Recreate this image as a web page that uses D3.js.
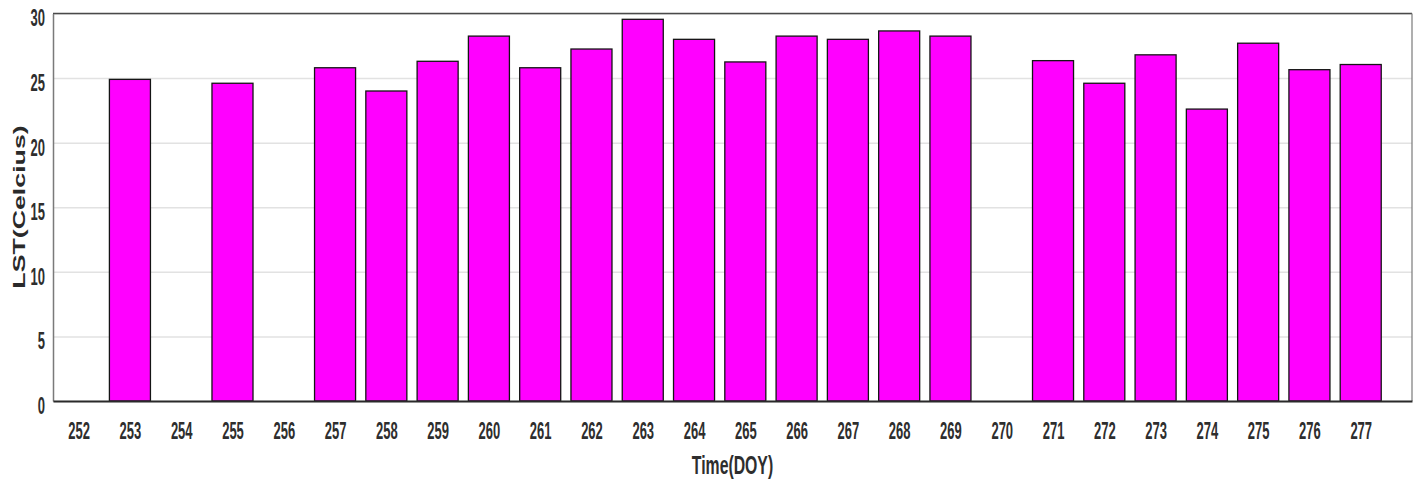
<!DOCTYPE html>
<html>
<head>
<meta charset="utf-8">
<script src="https://cdn.jsdelivr.net/npm/d3@7"></script>
<style>
  html, body { margin: 0; padding: 0; background: #fff; }
  svg { display: block; }
  text { font-family: "Liberation Sans", Arial, sans-serif; }
</style>
</head>
<body>
<svg id="chart" width="1421" height="485"></svg>
<script>
// Day of year and land surface temperature (°C); 0 = no observation that day
const days = [252, 253, 254, 255, 256, 257, 258, 259, 260, 261, 262, 263, 264,
              265, 266, 267, 268, 269, 270, 271, 272, 273, 274, 275, 276, 277];
const lst  = [0, 24.9, 0, 24.6, 0, 25.8, 24.0, 26.3, 28.25, 25.8, 27.25, 29.55, 28.0,
              26.25, 28.25, 28.0, 28.65, 28.25, 0, 26.35, 24.6, 26.8, 22.6, 27.7, 25.65, 26.05];
const yTicks = [0, 5, 10, 15, 20, 25, 30];
const xDomain = [251.5, 278];
const yDomain = [0, 30];

const svg = d3.select("#chart");
const plot = { left: 53, right: 1412, top: 13.5, bottom: 401 };

const x = d3.scaleLinear().domain(xDomain).range([plot.left, plot.right]);
const y = d3.scaleLinear().domain(yDomain).range([plot.bottom, plot.top]);
const barW = 0.8 * (x(1) - x(0));

// horizontal grid
svg.append("g")
  .attr("transform", `translate(${plot.left},0)`)
  .call(d3.axisLeft(y).tickValues(yTicks).tickSize(-(plot.right - plot.left)).tickFormat(""))
  .call(g => g.select(".domain").remove())
  .call(g => g.selectAll("line").attr("stroke", "#e2e2e2").attr("stroke-width", 1.5));

// bars
svg.append("g")
  .selectAll("rect")
  .data(days.map((d, i) => ({ day: d, v: lst[i] })).filter(d => d.v > 0))
  .join("rect")
  .attr("x", d => x(d.day) - barW / 2)
  .attr("width", barW)
  .attr("y", d => y(d.v))
  .attr("height", d => y(0) - y(d.v))
  .attr("fill", "#ff00ff")
  .attr("stroke", "#151515")
  .attr("stroke-width", 1.3);

// frame: top and right edges
svg.append("line").attr("x1", plot.left).attr("x2", plot.right).attr("y1", plot.top).attr("y2", plot.top)
  .attr("stroke", "#4a4a4a").attr("stroke-width", 1.5);
svg.append("line").attr("x1", plot.right).attr("x2", plot.right).attr("y1", plot.top).attr("y2", plot.bottom)
  .attr("stroke", "#7a7a7a").attr("stroke-width", 1.2);

// tall, narrow tick label style
const tickFont = sel => sel
  .attr("font-size", 13).attr("font-weight", "bold").attr("fill", "#2e2e2e")
  .attr("font-family", "Liberation Sans, Arial, sans-serif");

// y axis
const yAxis = svg.append("g")
  .attr("transform", `translate(${plot.left},0)`)
  .call(d3.axisLeft(y).tickValues(yTicks).tickSize(0).tickPadding(8));
yAxis.select(".domain").attr("stroke", "#7a7a7a").attr("stroke-width", 1.5);
yAxis.selectAll(".tick text")
  .attr("x", -8).attr("dy", 0)
  .call(tickFont)
  .attr("transform", "translate(0,12.4) scale(1,1.8)")
  .attr("text-anchor", "end");

// x axis
const xAxis = svg.append("g")
  .attr("transform", `translate(0,${plot.bottom})`)
  .call(d3.axisBottom(x).tickValues(days).tickFormat(d3.format("d")).tickSize(0));
xAxis.select(".domain").attr("stroke", "#2a2a2a").attr("stroke-width", 2);
xAxis.selectAll(".tick text")
  .attr("y", 0).attr("dy", 0)
  .call(tickFont)
  .attr("transform", "translate(0,37.5) scale(1,1.8)");

// axis titles
svg.append("text")
  .attr("transform", `translate(${(plot.left + plot.right) / 2},473.5) scale(1,1.65)`)
  .attr("text-anchor", "middle")
  .attr("font-size", 15.8).attr("font-weight", "bold").attr("fill", "#2e2e2e")
  .text("Time(DOY)");

svg.append("text")
  .attr("transform", "translate(25,207) rotate(-90) scale(1.62,1)")
  .attr("text-anchor", "middle")
  .attr("font-size", 16.5).attr("font-weight", "bold").attr("fill", "#2a2a2a")
  .text("LST(Celcius)");
</script>
</body>
</html>
